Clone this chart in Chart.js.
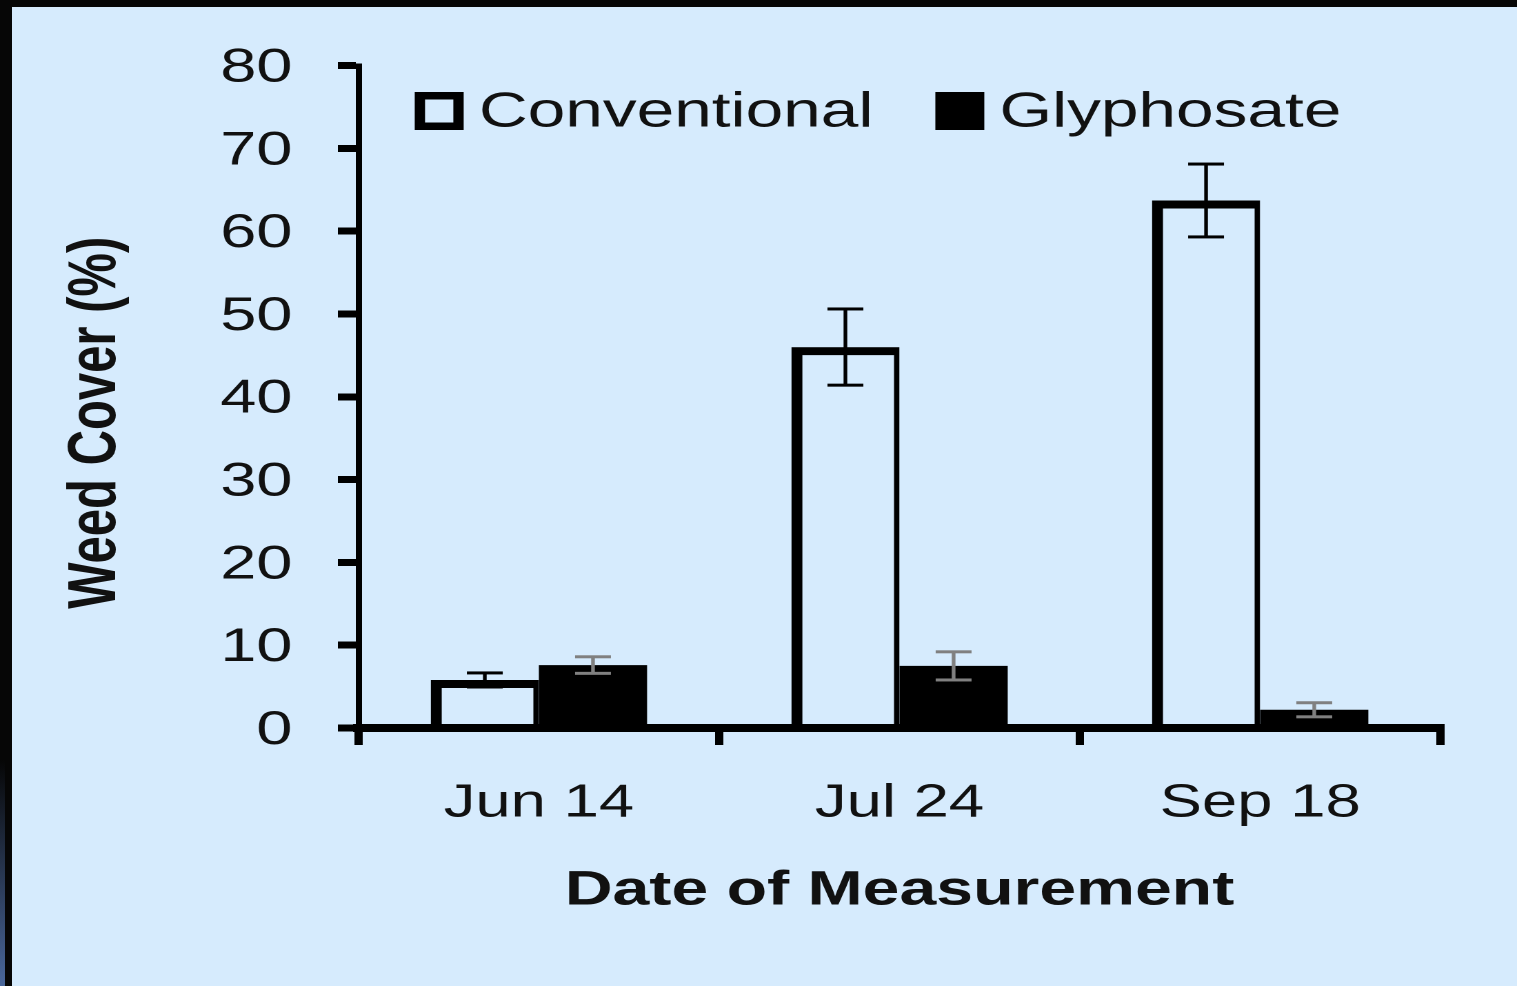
<!DOCTYPE html>
<html><head><meta charset="utf-8">
<script src="https://cdn.jsdelivr.net/npm/chart.js@4/dist/chart.umd.min.js"></script>
<style>
html,body{margin:0;padding:0;}
body{width:1517px;height:986px;overflow:hidden;background:#d6ebfd;position:relative;}
#bt{position:absolute;left:0;top:0;width:1517px;height:7px;background:#060606;}
#bl{position:absolute;left:0;top:0;width:12px;height:986px;background:#060606;}
#bl2{position:absolute;left:0;top:760px;width:5px;height:226px;background:linear-gradient(#060606,#4a679b);}
#wrap{position:absolute;left:0;top:0;width:1100px;height:986px;transform:scaleX(1.37909);transform-origin:0 0;}
</style></head><body>
<div id="bt"></div><div id="bl"></div><div id="bl2"></div>
<div id="wrap"><canvas id="c" width="1100" height="986"></canvas></div>
<script>
const categories = ['Jun 14', 'Jul 24', 'Sep 18'];
const seriesNames = ['Conventional', 'Glyphosate'];
const conventional = [5.8, 46.0, 63.7];
const conventionalErr = [0.85, 4.6, 4.4];
const glyphosate = [7.6, 7.5, 2.2];
const glyphosateErr = [1.0, 1.7, 0.85];
const yTicks = [0, 10, 20, 30, 40, 50, 60, 70, 80];
const xTitle = 'Date of Measurement';
const yTitle = 'Weed Cover (%)';

const FONT = '"Liberation Sans", Arial, sans-serif';
const TXT = '#111';

const errorBars = {
  id: 'errorBars',
  afterDatasetsDraw(chart) {
    const ctx = chart.ctx, y = chart.scales.y;
    const errs = [conventionalErr, glyphosateErr];
    const cols = ['#000', '#808080'];
    chart.data.datasets.forEach((ds, i) => {
      const meta = chart.getDatasetMeta(i);
      meta.data.forEach((bar, j) => {
        const v = ds.data[j], e = errs[i][j];
        const yt = y.getPixelForValue(v + e), yb = y.getPixelForValue(v - e);
        const x = bar.x;
        ctx.save();
        ctx.fillStyle = cols[i];
        ctx.fillRect(x - 1.35, yt, 2.7, yb - yt);
        ctx.fillRect(x - 13, yt - 1.5, 26, 3);
        ctx.fillRect(x - 13, yb - 1.5, 26, 3);
        ctx.restore();
      });
    });
  }
};

const boxLegend = {
  id: 'boxLegend',
  afterDraw(chart) {
    const ctx = chart.ctx, a = chart.chartArea;
    ctx.save();
    ctx.font = '49px ' + FONT;
    ctx.textBaseline = 'middle';
    ctx.textAlign = 'left';
    let x = a.left + 40.7;
    const top = a.top + 26.5, bw = 35.5, bh = 38;
    chart.data.datasets.forEach((ds, i) => {
      if (i === 0) {
        ctx.strokeStyle = '#000';
        ctx.lineWidth = 7.5;
        ctx.strokeRect(x + 3.75, top + 3.75, bw - 7.5, bh - 7.5);
      } else {
        ctx.fillStyle = '#000';
        ctx.fillRect(x, top, bw, bh);
      }
      ctx.fillStyle = TXT;
      ctx.fillText(ds.label, x + bw + 11, top + 21);
      x += bw + 11 + ctx.measureText(ds.label).width + 45;
    });
    ctx.restore();
  }
};

const yTitlePlugin = {
  id: 'yTitlePlugin',
  afterDraw(chart) {
    const ctx = chart.ctx, a = chart.chartArea;
    ctx.save();
    ctx.translate(70, (a.top + a.bottom) / 2 + 26);
    ctx.rotate(-Math.PI / 2);
    ctx.font = 'bold 49px ' + FONT;
    ctx.fillStyle = TXT;
    ctx.textAlign = 'center';
    ctx.textBaseline = 'middle';
    ctx.fillText(yTitle, 0, 0);
    ctx.restore();
  }
};

new Chart(document.getElementById('c'), {
  type: 'bar',
  data: {
    labels: categories,
    datasets: [
      {
        label: seriesNames[0],
        data: conventional,
        backgroundColor: 'rgba(0,0,0,0)',
        borderColor: '#000',
        borderWidth: {top: 8, left: 8, right: 4, bottom: 0},
        borderSkipped: 'start'
      },
      {
        label: seriesNames[1],
        data: glyphosate,
        backgroundColor: '#000',
        borderWidth: 0
      }
    ]
  },
  options: {
    responsive: false,
    animation: false,
    devicePixelRatio: 2,
    categoryPercentage: 0.6,
    barPercentage: 1.0,
    layout: {padding: {top: 65.5, left: 0, right: 55.5, bottom: 0}},
    plugins: {
      legend: {display: false},
      tooltip: {enabled: false},
      title: {display: false}
    },
    scales: {
      x: {
        grid: {display: true, drawOnChartArea: false, drawTicks: true, tickLength: 17, lineWidth: 6, color: '#000', offset: true},
        border: {display: true, color: '#000', width: 8},
        ticks: {font: {family: FONT, size: 46}, color: TXT, padding: 31},
        title: {display: true, text: xTitle, color: TXT, font: {family: FONT, size: 48, weight: 'bold'}, padding: {top: 0, bottom: 66}},
        afterFit: s => { s.height = 258; }
      },
      y: {
        min: 0, max: 80,
        afterBuildTicks: axis => { axis.ticks = yTicks.map(v => ({value: v})); },
        grid: {display: true, drawOnChartArea: false, drawTicks: true, tickLength: 15, lineWidth: 7, color: '#000'},
        border: {display: true, color: '#000', width: 4.5},
        ticks: {font: {family: FONT, size: 47}, color: TXT, padding: 33, labelOffset: 3},
        afterFit: s => { s.width = 260; }
      }
    }
  },
  plugins: [errorBars, boxLegend, yTitlePlugin]
});
</script>
</body></html>
